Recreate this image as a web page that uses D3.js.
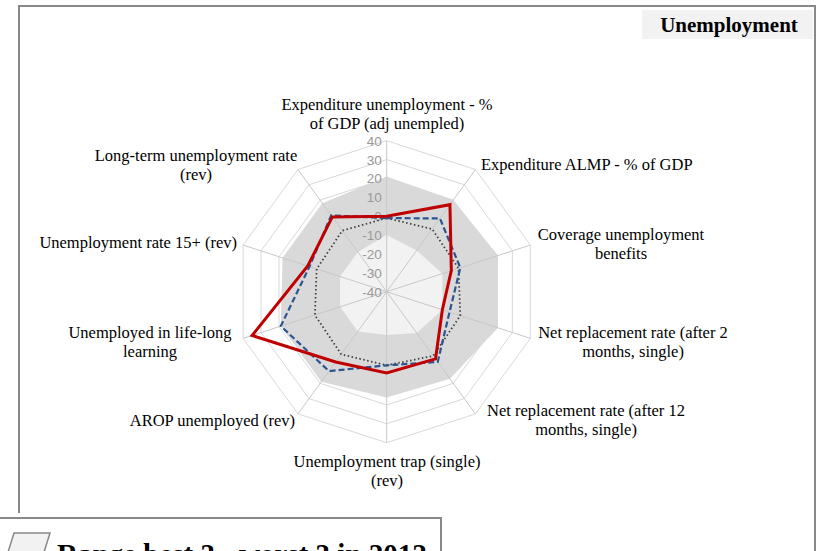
<!DOCTYPE html>
<html>
<head>
<meta charset="utf-8">
<script src="https://cdn.jsdelivr.net/npm/d3@7"></script>
<style>
  html, body { margin: 0; padding: 0; background: #fff; overflow: hidden; }
  svg { display: block; }
</style>
</head>
<body>
<svg id="chart" width="823" height="551"></svg>
<script>
// Axis labels, clockwise from the top (multi-line labels split with "\n")
const categories = [
  "Expenditure unemployment - %\nof GDP (adj unempled)",
  "Expenditure ALMP - % of GDP",
  "Coverage unemployment\nbenefits",
  "Net replacement rate (after 2\nmonths, single)",
  "Net replacement rate (after 12\nmonths, single)",
  "Unemployment trap (single)\n(rev)",
  "AROP unemployed (rev)",
  "Unemployed in life-long\nlearning",
  "Unemployment rate 15+ (rev)",
  "Long-term unemployment rate\n(rev)"
];

// Range of the best 3 / worst 3 countries
const rangeBest3 = [21, 20, 22, 22, 17, 16, 19, 19, 18, 18];
const rangeWorst3 = [-10, -13, -9, -9, -13, -17, -14, -14, -14, -14];

// Series values
const seriesRed = [0, 17, -4, -9, 4, 3, 6, 35, 4, 9];
const seriesBlue = [-1, 8, 1, -5, 6, -1, 12, 19, 3, 10];
const seriesDotted = [-1, 1, 0, 1, 2, -1, 1, 0, -1, 0];

const tickValues = [-40, -30, -20, -10, 0, 10, 20, 30, 40];

const svg = d3.select("#chart");
const cx = 386.7, cy = 291.7;
const n = categories.length;
const angle = d3.scaleLinear().domain([0, n]).range([0, 2 * Math.PI]);
const r = d3.scaleLinear().domain([-40, 40]).range([0, 151]);

const serif = "'Liberation Serif', 'Times New Roman', serif";

// Outer frame
svg.append("rect")
  .attr("x", 19).attr("y", 6).attr("width", 796).attr("height", 600)
  .attr("fill", "#fff").attr("stroke", "#888").attr("stroke-width", 2);

// Title box
svg.append("rect")
  .attr("x", 642).attr("y", 10).attr("width", 171).attr("height", 29)
  .attr("fill", "#f2f2f2");
svg.append("text")
  .attr("x", 729).attr("y", 32)
  .attr("text-anchor", "middle")
  .attr("font-family", serif).attr("font-weight", "bold").attr("font-size", 21)
  .attr("fill", "#000")
  .text("Unemployment");

const g = svg.append("g").attr("transform", `translate(${cx},${cy})`);

const pt = (i, v) => {
  const a = angle(i);
  return [r(v) * Math.sin(a), -r(v) * Math.cos(a)];
};

const radial = d3.lineRadial()
  .angle((d, i) => angle(i))
  .radius(d => r(d))
  .curve(d3.curveLinearClosed);

// Concentric grid rings (drawn under the filled range)
g.append("g").selectAll("path")
  .data(tickValues.slice(1))
  .join("path")
  .attr("d", t => radial(d3.range(n).map(() => t)))
  .attr("fill", "none")
  .attr("stroke", "#d9d9d9")
  .attr("stroke-width", 1);

// Range band: best 3 area, then worst 3 area on top
g.append("path")
  .attr("d", radial(rangeBest3))
  .attr("fill", "#d9d9d9");
g.append("path")
  .attr("d", radial(rangeWorst3))
  .attr("fill", "#f2f2f2");

// Spokes
g.append("g").selectAll("line")
  .data(d3.range(n))
  .join("line")
  .attr("x1", 0).attr("y1", 0)
  .attr("x2", i => pt(i, 40)[0])
  .attr("y2", i => pt(i, 40)[1])
  .attr("stroke", "#c8c8c8")
  .attr("stroke-width", 1);

// Tick labels along the top spoke
g.append("g").selectAll("text")
  .data(tickValues)
  .join("text")
  .attr("x", -5)
  .attr("y", t => -r(t) + 5)
  .attr("text-anchor", "end")
  .attr("font-family", "'Liberation Sans', Arial, sans-serif")
  .attr("font-size", 13.5)
  .attr("fill", "#999")
  .text(t => t);

// Series lines
g.append("path")
  .attr("d", radial(seriesDotted))
  .attr("fill", "none")
  .attr("stroke", "#404040")
  .attr("stroke-width", 1.8)
  .attr("stroke-dasharray", "1.5,2.5");
g.append("path")
  .attr("d", radial(seriesBlue))
  .attr("fill", "none")
  .attr("stroke", "#2a5590")
  .attr("stroke-width", 2.2)
  .attr("stroke-dasharray", "6,3");
g.append("path")
  .attr("d", radial(seriesRed))
  .attr("fill", "none")
  .attr("stroke", "#c00000")
  .attr("stroke-width", 3)
  .attr("stroke-linejoin", "miter");

// Category labels
const labelPos = [
  { x: 387, y: 110, anchor: "middle" },
  { x: 481, y: 170, anchor: "start" },
  { x: 621, y: 240, anchor: "middle" },
  { x: 633, y: 338, anchor: "middle" },
  { x: 586, y: 416, anchor: "middle" },
  { x: 387, y: 467, anchor: "middle" },
  { x: 295, y: 426, anchor: "end" },
  { x: 150, y: 338, anchor: "middle" },
  { x: 237, y: 248, anchor: "end" },
  { x: 196, y: 161, anchor: "middle" }
];

const labels = svg.append("g")
  .attr("font-family", serif)
  .attr("font-size", 16.5)
  .attr("fill", "#000");

categories.forEach((c, i) => {
  const p = labelPos[i];
  const t = labels.append("text")
    .attr("x", p.x).attr("y", p.y)
    .attr("text-anchor", p.anchor);
  c.split("\n").forEach((line, k) => {
    t.append("tspan")
      .attr("x", p.x)
      .attr("dy", k === 0 ? 0 : 19)
      .text(line);
  });
});

// Legend box (partially below the page edge)
svg.append("rect")
  .attr("x", -5).attr("y", 513).attr("width", 450).attr("height", 60)
  .attr("fill", "#fff");
svg.append("rect")
  .attr("x", -5).attr("y", 518).attr("width", 446).attr("height", 60)
  .attr("fill", "#fff").attr("stroke", "#888").attr("stroke-width", 2);
svg.append("path")
  .attr("d", "M14,533 L50,533 L40,565 L4,565 Z")
  .attr("fill", "#f2f2f2").attr("stroke", "#888").attr("stroke-width", 1.5);
svg.append("text")
  .attr("x", 57).attr("y", 564)
  .attr("font-family", serif).attr("font-weight", "bold").attr("font-size", 29)
  .attr("fill", "#000")
  .text("Range best 3 - worst 3 in 2012");
</script>
</body>
</html>
